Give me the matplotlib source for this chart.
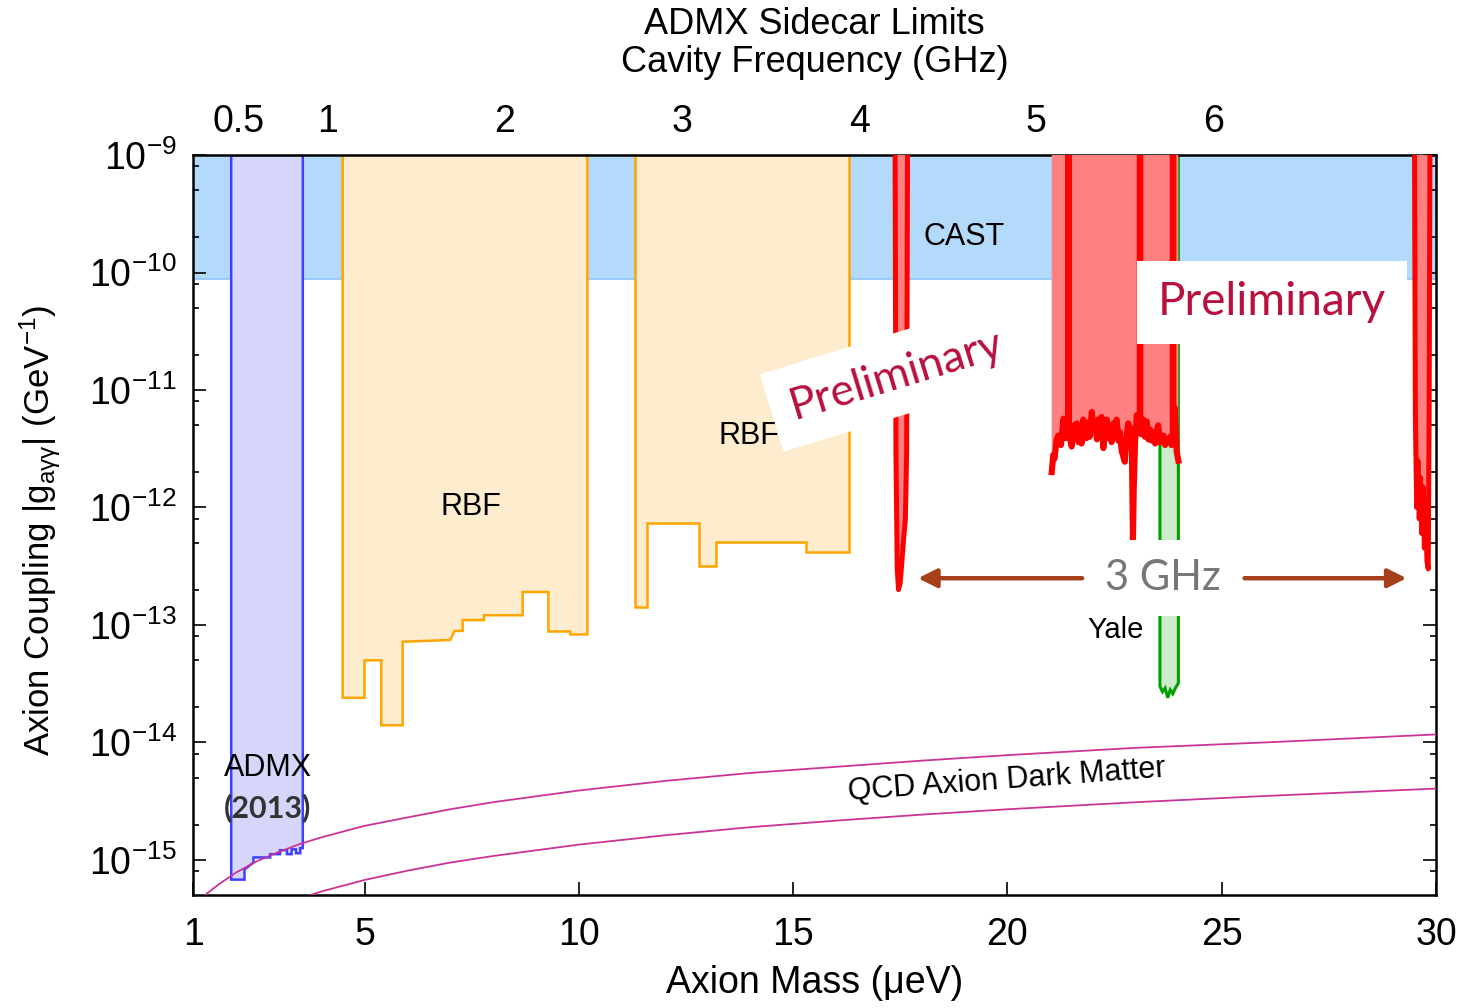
import numpy as np
import matplotlib
matplotlib.use("Agg")
import matplotlib.pyplot as plt
from matplotlib.ticker import FixedLocator, LogLocator, NullFormatter, FuncFormatter

plt.rcParams['font.family'] = ['Liberation Sans', 'DejaVu Sans']
plt.rcParams['mathtext.fontset'] = 'custom'
plt.rcParams['mathtext.rm'] = 'Liberation Sans'
plt.rcParams['mathtext.it'] = 'Liberation Sans:italic'
plt.rcParams['mathtext.default'] = 'regular'

CALIBRI_LIKE = ['Lato', 'Open Sans', 'DejaVu Sans']

# --- data (mass in ueV, coupling in GeV^-1) ---
G_TOP = 1e-9            # open limits run up to the top of the plot
CAST_LIMIT = 8.8e-11
UEV_PER_GHZ = 4.1357

# ADMX 2013
admx_mass = [1.89, 1.89, 2.20, 2.20, 2.41, 2.41, 2.80, 2.80, 3.03, 3.03,
             3.19, 3.19, 3.30, 3.30, 3.40, 3.40, 3.50, 3.50, 3.56, 3.56]
admx_g = [G_TOP, 6.8e-16, 6.8e-16, 8.3e-16, 9.5e-16, 1.05e-15, 1.05e-15, 1.12e-15, 1.12e-15, 1.21e-15,
          1.21e-15, 1.12e-15, 1.12e-15, 1.23e-15, 1.23e-15, 1.14e-15, 1.14e-15, 1.26e-15, 1.26e-15, G_TOP]

# RBF (two scans)
rbf1_mass = [4.49, 4.49, 5.00, 5.00, 5.39, 5.39, 5.89, 5.89, 7.00, 7.10, 7.29, 7.29,
             7.79, 7.79, 8.69, 8.69, 9.29, 9.29, 9.80, 9.80, 10.20, 10.20]
rbf1_g = [G_TOP, 2.40e-14, 2.40e-14, 5.0e-14, 5.0e-14, 1.40e-14, 1.40e-14, 7.2e-14, 7.45e-14, 8.9e-14, 8.9e-14, 1.10e-13,
          1.10e-13, 1.21e-13, 1.21e-13, 1.91e-13, 1.91e-13, 8.8e-14, 8.8e-14, 8.3e-14, 8.3e-14, G_TOP]
rbf2_mass = [11.30, 11.30, 11.59, 11.59, 12.81, 12.81, 13.20, 13.20, 15.30, 15.30, 16.31, 16.31]
rbf2_g = [G_TOP, 1.42e-13, 1.42e-13, 7.4e-13, 7.4e-13, 3.2e-13, 3.2e-13, 5.1e-13, 5.1e-13, 4.2e-13, 4.2e-13, G_TOP]

# Yale (HAYSTAC)
yale_mass = [23.56, 23.56, 23.62, 23.68, 23.74, 23.80, 23.86, 23.92, 23.99, 23.99]
yale_g = [G_TOP, 3.0e-14, 2.7e-14, 2.9e-14, 2.4e-14, 2.8e-14, 2.6e-14, 2.9e-14, 3.2e-14, G_TOP]

# ADMX sidecar (preliminary), three scans
side1_mass = [17.38, 17.40, 17.43, 17.46, 17.50, 17.54, 17.58, 17.62, 17.65, 17.67]
side1_g = [G_TOP, 3e-12, 3e-13, 2.0e-13, 2.3e-13, 3.5e-13, 5.5e-13, 8e-13, 3e-12, G_TOP]

side2_mass = [21.035, 21.07, 21.10, 21.15, 21.19, 21.25, 21.31, 21.36, 21.42, 21.42, 21.43, 21.43,
              21.50, 21.53, 21.56, 21.62, 21.66, 21.70, 21.73, 21.77, 21.81, 21.85, 21.89, 21.92,
              21.97, 22.01, 22.05, 22.09, 22.12, 22.16, 22.20, 22.24, 22.28, 22.32, 22.35, 22.38,
              22.43, 22.47, 22.51, 22.55, 22.59, 22.62, 22.67, 22.74, 22.78, 22.82, 22.86, 22.90,
              22.93, 22.95, 22.98, 23.02, 23.06, 23.09, 23.09, 23.10, 23.10, 23.13, 23.17, 23.21,
              23.25, 23.29, 23.33, 23.37, 23.41, 23.45, 23.49, 23.52, 23.56, 23.60, 23.64, 23.68,
              23.72, 23.76, 23.80, 23.83, 23.86, 23.86, 23.87, 23.87, 23.91, 23.95, 23.99]
side2_g = [2.0e-12, 2.8e-12, 2.6e-12, 3.8e-12, 4.1e-12, 3.4e-12, 5.7e-12, 3.9e-12, 4.4e-12, G_TOP, G_TOP, 4.4e-12,
           3.3e-12, 4.6e-12, 5.0e-12, 5.2e-12, 3.6e-12, 4.4e-12, 3.5e-12, 5.6e-12, 4.3e-12, 3.9e-12, 5.3e-12, 4.0e-12,
           6.5e-12, 4.6e-12, 5.0e-12, 3.8e-12, 5.6e-12, 4.2e-12, 5.9e-12, 3.2e-12, 4.9e-12, 5.6e-12, 3.9e-12, 4.8e-12,
           3.6e-12, 5.2e-12, 4.1e-12, 5.6e-12, 3.7e-12, 4.4e-12, 3.0e-12, 2.45e-12, 4.0e-12, 5.2e-12, 3.9e-12, 4.7e-12,
           5.3e-13, 1.5e-12, 3.6e-12, 6.1e-12, 4.3e-12, 5.0e-12, G_TOP, G_TOP, 5.0e-12, 4.2e-12, 5.6e-12, 4.0e-12,
           5.4e-12, 3.8e-12, 4.6e-12, 3.7e-12, 4.4e-12, 3.5e-12, 4.6e-12, 5.0e-12, 3.6e-12, 4.0e-12, 4.1e-12, 3.4e-12,
           3.8e-12, 3.6e-12, 4.0e-12, 3.4e-12, 3.9e-12, G_TOP, G_TOP, 3.9e-12, 7.0e-12, 3.0e-12, 2.5e-12]

side3_mass = [29.50, 29.52, 29.55, 29.58, 29.61, 29.64, 29.67, 29.70, 29.73, 29.76, 29.79, 29.82, 29.84, 29.86]
side3_g = [G_TOP, 6e-12, 1.0e-12, 2.5e-12, 8e-13, 1.8e-12, 6e-13, 1.5e-12, 4.5e-13, 1.2e-12, 3.5e-13, 3.0e-13, 5e-12, G_TOP]

# QCD axion band (KSVZ upper, DFSZ lower)
qcd_mass = [1.0, 1.3, 1.6, 2.0, 2.5, 3.0, 3.5, 4.0, 5.0, 6.0, 7.0, 8.0, 10.0, 12.0,
            14.0, 16.0, 18.0, 20.0, 23.0, 26.0, 30.0]
ksvz_g = [3.9e-16, 5.1e-16, 6.2e-16, 7.8e-16, 9.8e-16, 1.17e-15, 1.37e-15, 1.56e-15, 1.95e-15, 2.3e-15, 2.7e-15,
          3.1e-15, 3.9e-15, 4.7e-15, 5.5e-15, 6.2e-15, 7.0e-15, 7.8e-15, 9.0e-15, 1.0e-14, 1.17e-14]
dfsz_g = [1.35e-16, 1.75e-16, 2.15e-16, 2.7e-16, 3.4e-16, 4.05e-16, 4.7e-16, 5.4e-16, 6.75e-16, 8.1e-16, 9.5e-16,
          1.08e-15, 1.35e-15, 1.62e-15, 1.9e-15, 2.16e-15, 2.43e-15, 2.7e-15, 3.1e-15, 3.5e-15, 4.05e-15]

x_ticks = [1, 5, 10, 15, 20, 25, 30]
ghz_ticks = [0.5, 1, 2, 3, 4, 5, 6]

# 3 GHz span between the outer sidecar scans
arrow_left = (21.81, 17.85)
arrow_right = (25.47, 29.38)
arrow_g = 2.5e-13

# --- plot ---
fig = plt.figure(figsize=(14.66, 10.08), dpi=100)
ax = fig.add_axes([0.1317, 0.1121, 0.8478, 0.7341])
ax.set_yscale('log')
ax.set_xlim(1, 30)
ax.set_ylim(5.03e-16, 1e-9)

ax.fill_between([1, 30], CAST_LIMIT, G_TOP, facecolor='#b3d9fb', edgecolor='#8cc4f8', lw=1.2, zorder=1)
ax.fill(admx_mass, admx_g, facecolor='#d6d6fb', edgecolor='#3f3fff', lw=1.8, zorder=2)
ax.fill(rbf1_mass, rbf1_g, facecolor='#feecce', edgecolor='#ffa500', lw=1.8, zorder=2)
ax.fill(rbf2_mass, rbf2_g, facecolor='#feecce', edgecolor='#ffa500', lw=1.8, zorder=2)
ax.fill(yale_mass, yale_g, facecolor='#cdeccd', edgecolor='#00a000', lw=2.2, zorder=2)

for sm, sg, lw in [(side1_mass, side1_g, 3.6), (side2_mass, side2_g, 4.4), (side3_mass, side3_g, 3.6)]:
    ax.fill_between(sm, sg, G_TOP, facecolor='#ff8080', lw=0, zorder=3)
    ax.plot(sm, sg, color='#ff0000', lw=lw, solid_joinstyle='round', zorder=4)

ax.plot(qcd_mass, ksvz_g, color='#cc3399', lw=1.3, zorder=5)
ax.plot(qcd_mass, dfsz_g, color='#cc3399', lw=1.3, zorder=5)

# arrows + label
for tail, tip in [arrow_left, arrow_right]:
    ax.annotate('', xy=(tip, arrow_g), xytext=(tail, arrow_g),
                arrowprops=dict(arrowstyle='-|>', color='#a5401b', lw=3.2, mutation_scale=28), zorder=6)
ax.text(23.62, arrow_g, '3 GHz', fontsize=30, color='#777777', family=CALIBRI_LIKE,
        ha='center', va='center', zorder=7,
        bbox=dict(boxstyle='square,pad=0.45', facecolor='white', edgecolor='none'))

# labels
ax.text(0.620, 0.889, 'CAST', transform=ax.transAxes, fontsize=22, ha='center', va='center', zorder=6)
ax.text(0.2237, 0.5243, 'RBF', transform=ax.transAxes, fontsize=22, ha='center', va='center', zorder=6)
ax.text(0.447, 0.620, 'RBF', transform=ax.transAxes, fontsize=22, ha='center', va='center', zorder=6)
ax.text(0.0603, 0.1716, 'ADMX', transform=ax.transAxes, fontsize=22, ha='center', va='center', zorder=6)
ax.text(0.0603, 0.1176, '(2013)', transform=ax.transAxes, fontsize=22, ha='center', va='center',
        family=CALIBRI_LIKE, fontweight='bold', color='#333333', zorder=6)
ax.text(0.7418, 0.3581, 'Yale', transform=ax.transAxes, fontsize=21, ha='center', va='center', zorder=6)
ax.text(0.655, 0.155, 'QCD Axion Dark Matter', transform=ax.transAxes, fontsize=22, ha='center', va='center',
        rotation=4.2, rotation_mode='anchor', zorder=6)

ax.text(0.566, 0.703, 'Preliminary', transform=ax.transAxes, fontsize=32, color='#b8103f',
        family=CALIBRI_LIKE, ha='center', va='center', rotation=17, rotation_mode='anchor', zorder=8,
        bbox=dict(boxstyle='square,pad=0.45', facecolor='white', edgecolor='none'))
ax.text(0.868, 0.801, 'Preliminary', transform=ax.transAxes, fontsize=33, color='#b8103f',
        family=CALIBRI_LIKE, ha='center', va='center', zorder=8,
        bbox=dict(boxstyle='square,pad=0.45', facecolor='white', edgecolor='none'))

# axes styling
ax.xaxis.set_major_locator(FixedLocator(x_ticks))
ax.set_xticklabels([str(t) for t in x_ticks])
ax.tick_params(axis='x', which='both', direction='in', length=9.5, width=1.2, top=False,
               labelsize=27, pad=16)
ax.yaxis.set_major_locator(LogLocator(base=10, numticks=20))
ax.yaxis.set_minor_locator(LogLocator(base=10, subs=[2, 5, 8], numticks=20))
ax.yaxis.set_minor_formatter(NullFormatter())
ax.yaxis.set_major_formatter(FuncFormatter(lambda v, p: r'$10^{%d}$' % round(np.log10(v))))
ax.tick_params(axis='y', which='major', direction='in', length=9.5, width=1.2, right=True,
               labelsize=27, pad=12)
ax.tick_params(axis='y', which='minor', direction='in', length=4.5, width=1.2, right=True)
for sp in ax.spines.values():
    sp.set_linewidth(1.8)

sec = ax.secondary_xaxis('top', functions=(lambda m: m / UEV_PER_GHZ, lambda f: f * UEV_PER_GHZ))
sec.set_xticks(ghz_ticks)
sec.set_xticklabels([f'{t:g}' for t in ghz_ticks])
sec.tick_params(length=0, labelsize=27, pad=11)
sec.spines['top'].set_visible(False)

ax.set_xlabel('Axion Mass (μeV)', fontsize=27)
ax.xaxis.set_label_coords(0.5, -0.119)
ax.xaxis.label.set_va('center')
ax.set_ylabel(r'Axion Coupling $|g_{a\gamma\gamma}|$ (GeV$^{-1}$)', fontsize=25)
ax.yaxis.set_label_coords(-0.123, 0.493)
ax.yaxis.label.set_va('center')

fig.text(0.5556, 0.976, 'ADMX Sidecar Limits', fontsize=26, ha='center', va='center')
fig.text(0.5556, 0.938, 'Cavity Frequency (GHz)', fontsize=26, ha='center', va='center')

fig.savefig('out.png', dpi=100)
